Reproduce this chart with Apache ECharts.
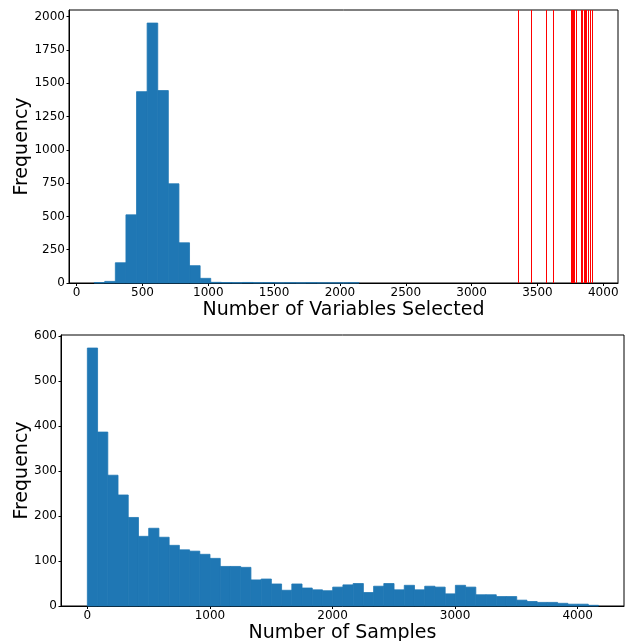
<!DOCTYPE html>
<html>
<head>
<meta charset="utf-8">
<script src="https://cdn.jsdelivr.net/npm/echarts@6/dist/echarts.min.js"></script>
<style>
html,body{margin:0;padding:0;background:#fff;}
#chart{width:629px;height:641px;}
</style>
</head>
<body>
<div id="chart"></div>
<script>
// ---- Top histogram: number of variables selected ----
const varBinStart = 133;
const varBinWidth = 80.5;
const varCounts = [3, 12, 152, 512, 1437, 1952, 1445, 745, 302, 130, 35, 5, 3, 2, 4, 2, 3, 1, 2, 1, 2, 1, 1, 1, 2];
const redLines = [3353, 3456, 3570, 3623, 3756, 3763, 3770, 3779, 3793, 3835, 3844, 3853, 3863, 3872, 3886, 3900, 3914];
const topXTicks = [0, 500, 1000, 1500, 2000, 2500, 3000, 3500, 4000];
const topYTicks = [0, 250, 500, 750, 1000, 1250, 1500, 1750, 2000];

// ---- Bottom histogram: number of samples ----
const sampBinStart = 0;
const sampBinWidth = 83.4;
const sampCounts = [574, 387, 291, 247, 197, 155, 173, 153, 135, 125,
                    122, 115, 106, 88, 88, 86, 58, 60, 49, 35,
                    49, 40, 36, 34, 42, 47, 50, 30, 44, 50,
                    36, 46, 36, 44, 42, 27, 46, 42, 25, 25,
                    21, 21, 13, 10, 8, 8, 6, 4, 4, 1.5];
const botXTicks = [0, 1000, 2000, 3000, 4000];
const botYTicks = [0, 100, 200, 300, 400, 500, 600];

function histData(start, width, counts) {
  return counts.map((c, i) => [start + i * width, start + (i + 1) * width, c]);
}

const FONT = 'DejaVu Sans';
const BAR = '#1f77b4';
const plain = v => String(v);

function renderBar(params, api) {
  const p0 = api.coord([api.value(0), api.value(2)]);
  const p1 = api.coord([api.value(1), 0]);
  return {
    type: 'rect',
    shape: { x: p0[0], y: p0[1], width: p1[0] - p0[0], height: p1[1] - p0[1] },
    style: { fill: BAR, stroke: BAR, lineWidth: 0.8 }
  };
}

function xAxisCfg(grid, min, max, ticks, name, gap) {
  return {
    gridIndex: grid, type: 'value', min: min, max: max,
    splitLine: { show: false },
    axisLine: { show: true, onZero: false, lineStyle: { color: '#000', width: 1 } },
    axisTick: { show: true, length: 3, customValues: ticks, lineStyle: { color: '#000' } },
    axisLabel: { color: '#000', fontSize: 12, fontFamily: FONT, margin: 4, customValues: ticks, formatter: plain },
    name: name, nameLocation: 'middle', nameGap: gap, nameMoveOverlap: false,
    nameTextStyle: { fontSize: 19, color: '#000', fontFamily: FONT, verticalAlign: 'top' }
  };
}
function yAxisCfg(grid, max, ticks, gap) {
  return {
    gridIndex: grid, type: 'value', min: 0, max: max,
    splitLine: { show: false },
    axisLine: { show: true, onZero: false, lineStyle: { color: '#000', width: 1 } },
    axisTick: { show: true, length: 2.5, customValues: ticks, lineStyle: { color: '#000' } },
    axisLabel: { color: '#000', fontSize: 12, fontFamily: FONT, margin: 4, customValues: ticks, formatter: plain },
    name: 'Frequency', nameLocation: 'middle', nameGap: gap, nameMoveOverlap: false,
    nameTextStyle: { fontSize: 19, color: '#000', fontFamily: FONT }
  };
}

const chart = echarts.init(document.getElementById('chart'), null, { renderer: 'canvas' });
chart.setOption({
  animation: false,
  backgroundColor: '#fff',
  grid: [
    { left: 69, top: 10, width: 549, height: 273, show: true, borderColor: '#000', borderWidth: 1, backgroundColor: 'transparent', outerBoundsMode: 'none', containLabel: false },
    { left: 61, top: 335, width: 563, height: 271, show: true, borderColor: '#000', borderWidth: 1, backgroundColor: 'transparent', outerBoundsMode: 'none', containLabel: false }
  ],
  xAxis: [
    xAxisCfg(0, -58, 4112, topXTicks, 'Number of Variables Selected', 18),
    xAxisCfg(1, -215, 4378, botXTicks, 'Number of Samples', 18)
  ],
  yAxis: [
    yAxisCfg(0, 2050, topYTicks, 37),
    yAxisCfg(1, 603, botYTicks, 29)
  ],
  series: [
    {
      type: 'custom', xAxisIndex: 0, yAxisIndex: 0,
      renderItem: renderBar,
      encode: { x: [0, 1], y: 2 },
      data: histData(varBinStart, varBinWidth, varCounts),
      markLine: {
        silent: true, symbol: 'none', animation: false,
        label: { show: false },
        lineStyle: { color: '#ff0000', width: 1, type: 'solid' },
        data: redLines.map(v => ({ xAxis: v }))
      }
    },
    {
      type: 'custom', xAxisIndex: 1, yAxisIndex: 1,
      renderItem: renderBar,
      encode: { x: [0, 1], y: 2 },
      data: histData(sampBinStart, sampBinWidth, sampCounts)
    }
  ]
});
</script>
</body>
</html>
